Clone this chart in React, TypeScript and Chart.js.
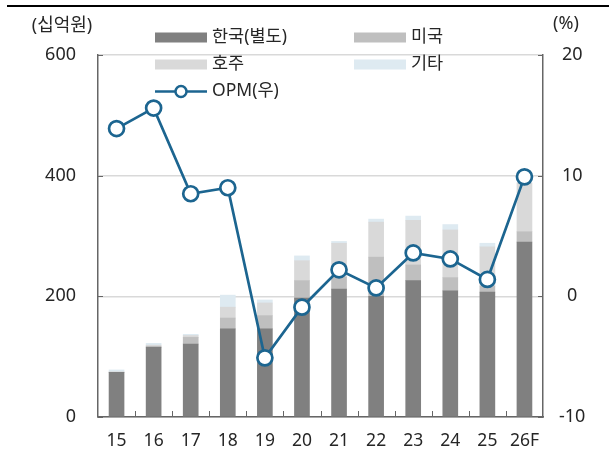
import React, { useEffect, useRef } from "react";
import { Chart, registerables } from "chart.js";

Chart.register(...registerables);

const categories = ["15", "16", "17", "18", "19", "20", "21", "22", "23", "24", "25", "26F"];
const korea = [74, 116, 121, 146, 146, 197, 212, 200, 226, 209, 207, 290];
const usa = [0, 0, 11, 18, 22, 29, 20, 65, 26, 22, 10, 17];
const australia = [1, 3, 3, 18, 21, 33, 56, 58, 74, 79, 65, 81];
const others = [3, 3, 2, 20, 5, 8, 3, 5, 7, 9, 6, -3];
const opm = [13.9, 15.6, 8.5, 9.0, -5.1, -0.9, 2.2, 0.7, 3.6, 3.1, 1.4, 9.9];

const leftTicks = [0, 200, 400, 600];
const rightTicks = [-10, 0, 10, 20];

const FONT = "'Noto Sans', 'Noto Sans CJK KR', sans-serif";
const TEXT = "#262626";
const AXIS = "#666666";
const LINE = "#1c6590";
const C_KR = "#808080";
const C_US = "#bfbfbf";
const C_AU = "#d9d9d9";
const C_ET = "#deeaf1";

const legendLabels = ["한국(별도)", "미국", "호주", "기타", "OPM(우)"];

const decor = {
  id: "decor",
  afterDraw(chart: any) {
    const ctx = chart.ctx;
    const { left, right, bottom } = chart.chartArea;
    const y = chart.scales.y;
    const y1 = chart.scales.y1;
    ctx.save();
    // top rule
    ctx.fillStyle = "#000";
    ctx.fillRect(7, 5, 602, 2);
    // inward ticks
    ctx.strokeStyle = AXIS;
    ctx.lineWidth = 1;
    ctx.beginPath();
    leftTicks.forEach((v) => {
      const py = Math.round(y.getPixelForValue(v)) + 0.5;
      ctx.moveTo(left, py);
      ctx.lineTo(left + 5, py);
    });
    rightTicks.forEach((v) => {
      const py = Math.round(y1.getPixelForValue(v)) + 0.5;
      ctx.moveTo(right, py);
      ctx.lineTo(right - 5, py);
    });
    const step = (right - left) / categories.length;
    for (let i = 1; i < categories.length; i++) {
      const px = Math.round(left + step * i) + 0.5;
      ctx.moveTo(px, bottom);
      ctx.lineTo(px, bottom - 6);
    }
    ctx.stroke();
    // axis titles
    ctx.fillStyle = TEXT;
    ctx.font = `18px ${FONT}`;
    ctx.textBaseline = "middle";
    ctx.textAlign = "center";
    ctx.fillText("(십억원)", 62, 26);
    ctx.fillText("(%)", 566, 24);
    // legend
    ctx.font = `17.5px ${FONT}`;
    const rows = [37.5, 64.5, 91.5];
    const cols = [155, 354];
    const sw = 52;
    const items = [
      { c: C_KR, col: 0, row: 0 },
      { c: C_US, col: 1, row: 0 },
      { c: C_AU, col: 0, row: 1 },
      { c: C_ET, col: 1, row: 1 },
    ];
    ctx.textAlign = "left";
    items.forEach((it, i) => {
      const lx = cols[it.col];
      const ly = rows[it.row];
      ctx.fillStyle = it.c;
      ctx.fillRect(lx, ly - 5, sw, 10);
      ctx.fillStyle = TEXT;
      ctx.fillText(legendLabels[i], lx + sw + 5, ly);
    });
    const ly = rows[2];
    ctx.strokeStyle = LINE;
    ctx.lineWidth = 2.5;
    ctx.beginPath();
    ctx.moveTo(cols[0], ly);
    ctx.lineTo(cols[0] + sw, ly);
    ctx.stroke();
    ctx.beginPath();
    ctx.arc(cols[0] + sw / 2, ly, 5.5, 0, Math.PI * 2);
    ctx.fillStyle = "#fff";
    ctx.fill();
    ctx.stroke();
    ctx.fillStyle = TEXT;
    ctx.fillText(legendLabels[4], cols[0] + sw + 5, ly);
    ctx.restore();
  },
};

export default function App() {
  const ref = useRef<HTMLCanvasElement>(null);
  useEffect(() => {
    if (!ref.current) return;
    const barBase = { type: "bar" as const, yAxisID: "y", stack: "s", order: 1, barThickness: 15, borderWidth: 0 };
    const chart = new Chart(ref.current, {
      type: "bar",
      data: {
        labels: categories,
        datasets: [
          { ...barBase, label: legendLabels[0], data: korea, backgroundColor: C_KR },
          { ...barBase, label: legendLabels[1], data: usa, backgroundColor: C_US },
          { ...barBase, label: legendLabels[2], data: australia, backgroundColor: C_AU },
          { ...barBase, label: legendLabels[3], data: others, backgroundColor: C_ET },
          {
            type: "line" as const,
            label: legendLabels[4],
            data: opm,
            yAxisID: "y1",
            order: 0,
            borderColor: LINE,
            borderWidth: 2.7,
            pointRadius: 7.5,
            pointBorderWidth: 2.7,
            pointBackgroundColor: "#fff",
            pointBorderColor: LINE,
            tension: 0,
          } as any,
        ],
      },
      options: {
        animation: false,
        responsive: true,
        maintainAspectRatio: false,
        layout: { padding: { top: 55, left: 0, right: 0, bottom: 0 } },
        plugins: { legend: { display: false }, tooltip: { enabled: false } },
        scales: {
          x: {
            stacked: true,
            grid: { display: false, drawTicks: false },
            border: { color: AXIS, width: 1.5 },
            ticks: { color: TEXT, font: { size: 17.5, family: FONT }, padding: 14, maxRotation: 0 },
            afterFit: (s: any) => { s.height = 40; },
          },
          y: {
            position: "left",
            stacked: true,
            min: 0,
            max: 600,
            grid: { color: "#d9d9d9", lineWidth: 1.5, drawTicks: false },
            border: { color: AXIS, width: 1.5 },
            ticks: { stepSize: 200, color: TEXT, font: { size: 18, family: FONT }, padding: 22 },
            afterFit: (s: any) => { s.width = 98; },
          },
          y1: {
            position: "right",
            min: -10,
            max: 20,
            grid: { drawOnChartArea: false, drawTicks: false },
            border: { color: AXIS, width: 1.5 },
            ticks: { stepSize: 10, color: TEXT, font: { size: 18, family: FONT }, padding: 16, crossAlign: "center" },
            afterFit: (s: any) => { s.width = 66; },
          },
        },
      },
      plugins: [decor],
    });
    return () => chart.destroy();
  }, []);
  return (
    <div style={{ position: "absolute", left: 0, top: 0, width: 609, height: 457, background: "#fff" }}>
      <canvas ref={ref} />
    </div>
  );
}
